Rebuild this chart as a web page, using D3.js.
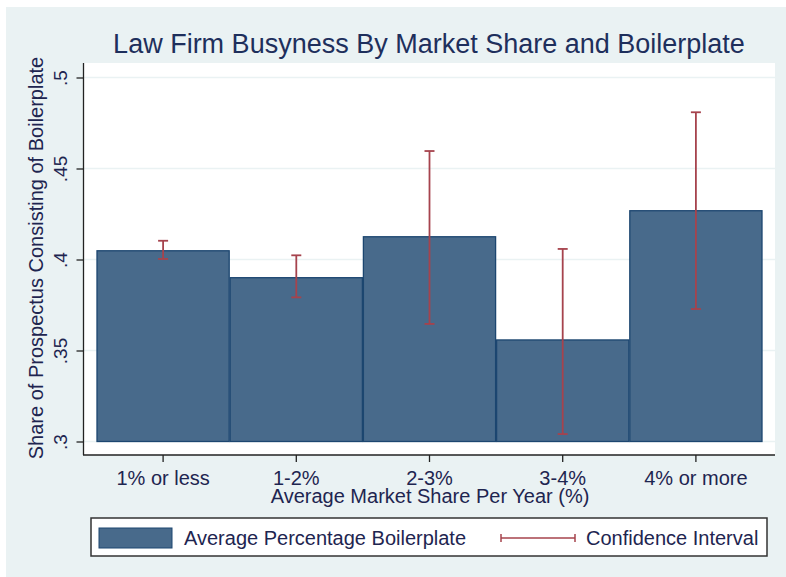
<!DOCTYPE html>
<html>
<head>
<meta charset="utf-8">
<script src="https://cdn.jsdelivr.net/npm/d3@7"></script>
<style>
  body { margin: 0; background: #fff; }
  text { font-family: "Liberation Sans", Arial, sans-serif; }
</style>
</head>
<body>
<div id="chart"></div>
<script>
// data
var categories = ["1% or less", "1-2%", "2-3%", "3-4%", "4% or more"];
var means = [0.4048, 0.390, 0.4125, 0.3558, 0.4268];
var ciLow = [0.4003, 0.3792, 0.3646, 0.3041, 0.3728];
var ciHigh = [0.4103, 0.4023, 0.4596, 0.4058, 0.4809];
var yTicks = [0.3, 0.35, 0.4, 0.45, 0.5];
var yTickLabels = [".3", ".35", ".4", ".45", ".5"];

var W = 786, H = 577;
var barFill = "#486a8b", barStroke = "#1c4670", ciCol = "#a6434d";
var bg = "#eaf2f3", txt = "#1e2550";

var svg = d3.select("#chart").append("svg")
  .attr("width", W)
  .attr("height", H);

// outer background
svg.append("rect")
  .attr("x", 6).attr("y", 7)
  .attr("width", W - 6).attr("height", H - 7)
  .attr("fill", bg);

// plot region
svg.append("rect")
  .attr("x", 83).attr("y", 63)
  .attr("width", 775 - 83).attr("height", 455 - 63)
  .attr("fill", "#fff");

var x = d3.scaleBand()
  .domain(categories)
  .range([96.5, 762.5])
  .padding(0);

var y = d3.scaleLinear()
  .domain([0.3, 0.5])
  .range([441.5, 77.5]);

// grid lines
svg.append("g").selectAll("line")
  .data(yTicks)
  .enter().append("line")
  .attr("x1", 84).attr("x2", 775)
  .attr("y1", function(d) { return y(d); })
  .attr("y2", function(d) { return y(d); })
  .attr("stroke", bg)
  .attr("stroke-width", 1.5);

// bars
svg.append("g").selectAll("rect")
  .data(means)
  .enter().append("rect")
  .attr("x", function(d, i) { return x(categories[i]) + 0.5; })
  .attr("width", x.bandwidth() - 1)
  .attr("y", function(d) { return y(d); })
  .attr("height", function(d) { return y(0.3) - y(d); })
  .attr("fill", barFill)
  .attr("stroke", barStroke)
  .attr("stroke-width", 1.3);

// confidence intervals
var ci = svg.append("g")
  .attr("stroke", ciCol)
  .attr("stroke-width", 1.8);
var capW = 5;
for (var i = 0; i < categories.length; i++) {
  var cx = x(categories[i]) + x.bandwidth() / 2;
  ci.append("line")
    .attr("x1", cx).attr("x2", cx)
    .attr("y1", y(ciLow[i])).attr("y2", y(ciHigh[i]));
  ci.append("line")
    .attr("x1", cx - capW).attr("x2", cx + capW)
    .attr("y1", y(ciLow[i])).attr("y2", y(ciLow[i]));
  ci.append("line")
    .attr("x1", cx - capW).attr("x2", cx + capW)
    .attr("y1", y(ciHigh[i])).attr("y2", y(ciHigh[i]));
}

// y axis
var yAxis = svg.append("g")
  .attr("transform", "translate(83.5,0)")
  .call(d3.axisLeft(y).tickValues(yTicks).tickSize(7).tickFormat(function(d, i) { return yTickLabels[i]; }));
yAxis.select(".domain").attr("d", "M0,63V455").attr("stroke", "#222").attr("stroke-width", 1.3);
yAxis.selectAll(".tick line").attr("stroke", "#222").attr("stroke-width", 1.3);
yAxis.selectAll(".tick text")
  .attr("x", null).attr("dy", null)
  .attr("transform", "translate(-16.5,0) rotate(-90)")
  .attr("text-anchor", "middle")
  .attr("font-size", "19px")
  .attr("font-family", "Liberation Sans, Arial, sans-serif")
  .attr("fill", txt);

// x axis
var xAxis = svg.append("g")
  .attr("transform", "translate(0,455)")
  .call(d3.axisBottom(x).tickSize(7));
xAxis.select(".domain").attr("d", "M83,0H775").attr("stroke", "#222").attr("stroke-width", 1.3);
xAxis.selectAll(".tick line").attr("stroke", "#222").attr("stroke-width", 1.3);
xAxis.selectAll(".tick text")
  .attr("y", 30).attr("dy", null)
  .attr("font-size", "20px")
  .attr("font-family", "Liberation Sans, Arial, sans-serif")
  .attr("fill", txt);

// titles
svg.append("text")
  .attr("x", 429).attr("y", 53)
  .attr("text-anchor", "middle")
  .attr("font-size", "27px")
  .attr("fill", "#1e2f5c")
  .text("Law Firm Busyness By Market Share and Boilerplate");

svg.append("text")
  .attr("x", 430).attr("y", 503)
  .attr("text-anchor", "middle")
  .attr("font-size", "20px")
  .attr("fill", txt)
  .text("Average Market Share Per Year (%)");

svg.append("text")
  .attr("transform", "translate(43,258) rotate(-90)")
  .attr("text-anchor", "middle")
  .attr("font-size", "20px")
  .attr("fill", txt)
  .text("Share of Prospectus Consisting of Boilerplate");

// legend
var lg = svg.append("g");
lg.append("rect")
  .attr("x", 91).attr("y", 518)
  .attr("width", 767 - 91).attr("height", 38)
  .attr("fill", "#fff")
  .attr("stroke", "#333")
  .attr("stroke-width", 1.5);
lg.append("rect")
  .attr("x", 99).attr("y", 528)
  .attr("width", 73).attr("height", 20)
  .attr("fill", barFill)
  .attr("stroke", barStroke)
  .attr("stroke-width", 1);
lg.append("text")
  .attr("x", 184).attr("y", 545)
  .attr("font-size", "20px")
  .attr("fill", txt)
  .text("Average Percentage Boilerplate");
lg.append("line")
  .attr("x1", 501).attr("x2", 575)
  .attr("y1", 538).attr("y2", 538)
  .attr("stroke", ciCol).attr("stroke-width", 1.5);
lg.selectAll(".cap")
  .data([501, 575])
  .enter().append("line")
  .attr("x1", function(d) { return d; }).attr("x2", function(d) { return d; })
  .attr("y1", 534).attr("y2", 542)
  .attr("stroke", ciCol).attr("stroke-width", 1.5);
lg.append("text")
  .attr("x", 586).attr("y", 545)
  .attr("font-size", "20px")
  .attr("fill", txt)
  .text("Confidence Interval");
</script>
</body>
</html>
